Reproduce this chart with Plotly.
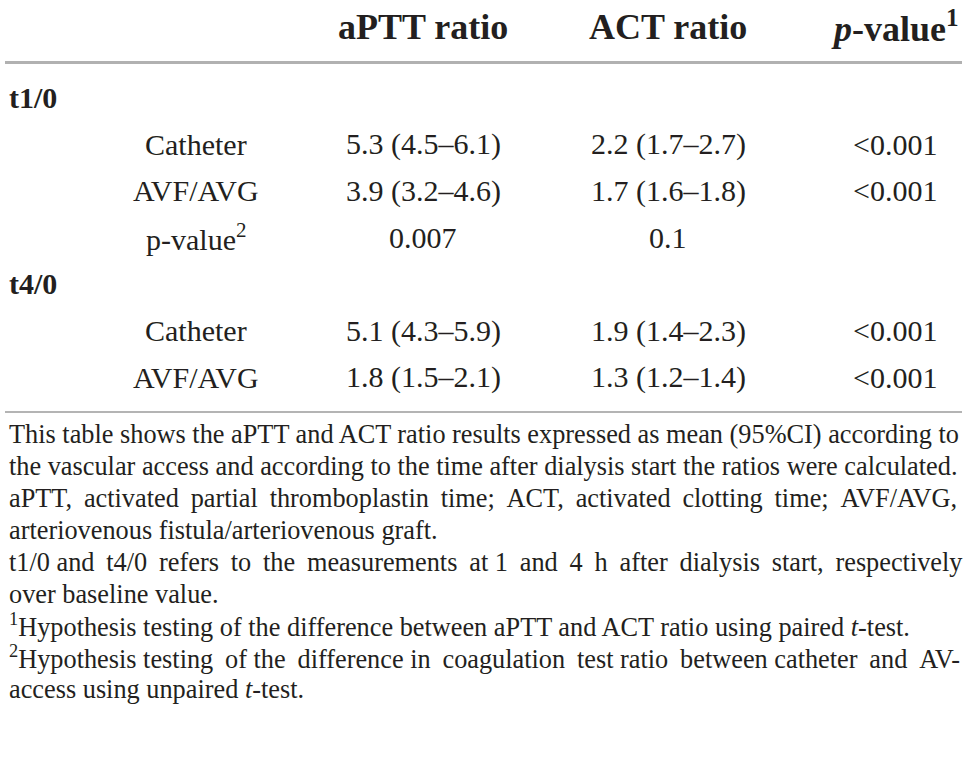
import plotly.graph_objects as go

"""
Table: aPTT and ACT ratios by vascular access (drawn with annotations)
"""

TEXT = "#231f20"
FONT = "Liberation Serif"

col_headers = ["<b>aPTT ratio</b>", "<b>ACT ratio</b>", "<b><i>p</i>-value<sup>1</sup></b>"]
groups = ["t1/0", "t4/0"]
row_labels = [["Catheter", "AVF/AVG", "p-value<sup>2</sup>"], ["Catheter", "AVF/AVG"]]
aptt = [["5.3 (4.5–6.1)", "3.9 (3.2–4.6)", "0.007"], ["5.1 (4.3–5.9)", "1.8 (1.5–2.1)"]]
act = [["2.2 (1.7–2.7)", "1.7 (1.6–1.8)", "0.1"], ["1.9 (1.4–2.3)", "1.3 (1.2–1.4)"]]
pvals = [["<0.001", "<0.001", ""], ["<0.001", "<0.001"]]

footnotes = [
    "This table shows the aPTT and ACT ratio results expressed as mean (95%CI) according to",
    "the vascular access and according to the time after dialysis start the ratios were calculated.",
    "aPTT, activated partial thromboplastin time; ACT, activated clotting time; AVF/AVG,",
    "arteriovenous fistula/arteriovenous graft.",
    "t1/0 and t4/0 refers to the measurements at 1 and 4 h after dialysis start, respectively",
    "over baseline value.",
    "<sup>1</sup>Hypothesis testing of the difference between aPTT and ACT ratio using paired <i>t</i>-test.",
    "<sup>2</sup>Hypothesis testing of the difference in coagulation test ratio between catheter and AV-",
    "access using unpaired <i>t</i>-test.",
]
# extra thin spaces per line to fake the justified paragraph
foot_extra = [0, 0, 9, 0, 13, 0, 0, 7, 0]

# column centres and vertical layout (pixels)
label_x = 196
col_x = [423, 668, 895]
header_y = 26.5
group_y0 = 97.5
row_step = 46.6
foot_y0 = 434.5
foot_step = 31.9


def justify(line, extra):
    words = line.split(" ")
    gaps = len(words) - 1
    if extra <= 0 or gaps <= 0:
        return line
    out = words[0]
    for i, w in enumerate(words[1:]):
        # spread extra spaces as evenly as possible over the gaps
        n = (extra * (i + 1)) // gaps - (extra * i) // gaps
        out += " " + "\u2009" * n + w
    return out


fig = go.Figure()
ann = []


def add_text(x, y, text, size, anchor="center"):
    ann.append(dict(x=x, y=y, xref="x", yref="y", text=text, showarrow=False,
                    xanchor=anchor, yanchor="middle",
                    font=dict(family=FONT, size=size, color=TEXT)))


for cx, h in zip(col_x, col_headers):
    add_text(cx, header_y, h, 36)

y = group_y0
for g, labels, a_vals, c_vals, p_vals in zip(groups, row_labels, aptt, act, pvals):
    add_text(7, y, "<b>" + g + "</b>", 30, anchor="left")
    y += row_step
    for lab, a, c, p in zip(labels, a_vals, c_vals, p_vals):
        add_text(label_x, y, lab, 30)
        add_text(col_x[0], y, a, 30)
        add_text(col_x[1], y, c, 30)
        if p:
            add_text(col_x[2], y, p.replace("<", "&lt;"), 30)
        y += row_step

for i, line in enumerate(footnotes):
    add_text(7, foot_y0 + i * foot_step, justify(line, foot_extra[i]), 26.3, anchor="left")

fig.update_layout(
    width=968, height=759,
    margin=dict(l=0, r=0, t=0, b=0),
    paper_bgcolor="white", plot_bgcolor="white",
    xaxis=dict(range=[0, 968], visible=False, fixedrange=True),
    yaxis=dict(range=[759, 0], visible=False, fixedrange=True),
    annotations=ann,
    shapes=[
        dict(type="line", xref="x", yref="y", x0=5, x1=962, y0=62.5, y1=62.5,
             line=dict(color="#b1b1b1", width=3)),
        dict(type="line", xref="x", yref="y", x0=5, x1=962, y0=412, y1=412,
             line=dict(color="#6a6a6a", width=1.2)),
    ],
    showlegend=False,
)

# drop the default body margin so the figure sits at the page corner
fig.write_html("out.html", config={"displayModeBar": False},
               post_script="document.body.style.margin='0';")
